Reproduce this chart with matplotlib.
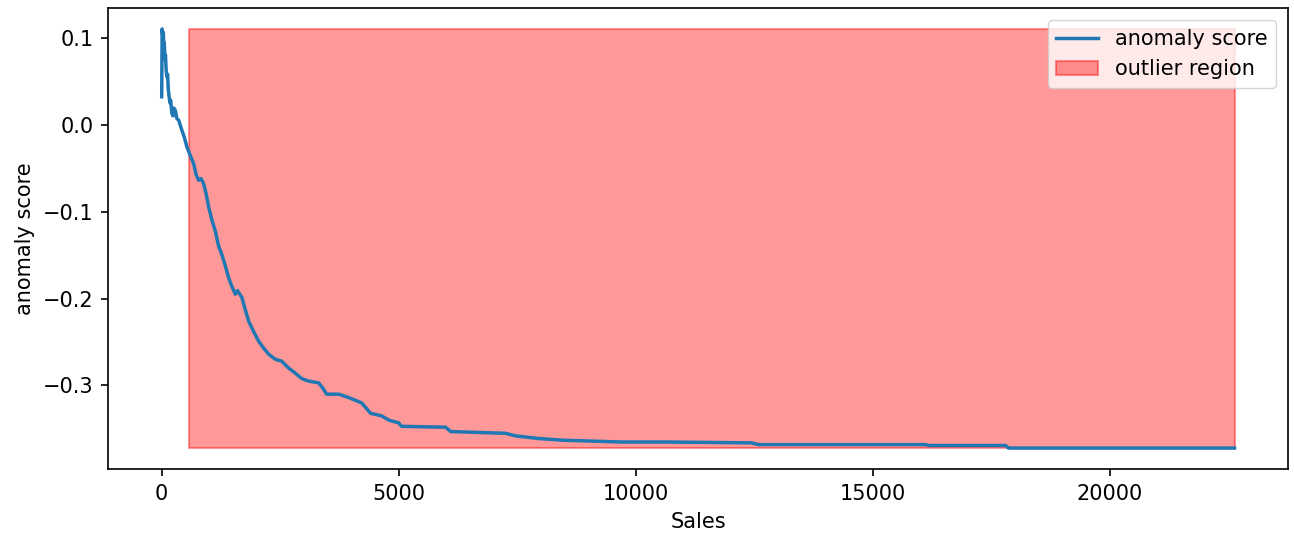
import numpy as np
import matplotlib
matplotlib.use('Agg')
import matplotlib.pyplot as plt

# Sales values (sorted) and the isolation forest anomaly score at each one
sales = [0.44, 10, 25, 35, 45, 55, 70, 80, 95, 110, 125, 140, 155, 175, 190, 215,
         240, 260, 290, 320, 360, 400, 430, 480, 534, 600, 675, 730, 781, 830,
         886, 940, 992, 1030, 1061, 1130, 1203, 1260, 1330, 1413, 1480, 1555,
         1600, 1694, 1760, 1835, 1940, 2046, 2150, 2257, 2400, 2532, 2679, 2800,
         2954, 3100, 3313, 3400, 3481, 3734, 3950, 4219, 4409, 4641, 4800, 5000,
         5063, 5992, 6097, 7257, 7468, 7954, 8481, 9705, 10633, 12447, 12594,
         15127, 16118, 16181, 17806, 17869, 22638]
anomaly_score = [0.032, 0.110, 0.100, 0.106, 0.090, 0.094, 0.075, 0.080, 0.062,
                 0.055, 0.058, 0.040, 0.033, 0.025, 0.028, 0.013, 0.010, 0.019,
                 0.016, 0.007, 0.005, -0.002, -0.007, -0.015, -0.026, -0.035,
                 -0.045, -0.058, -0.064, -0.062, -0.068, -0.080, -0.095, -0.103,
                 -0.110, -0.122, -0.140, -0.148, -0.160, -0.176, -0.186, -0.195,
                 -0.191, -0.199, -0.212, -0.226, -0.238, -0.249, -0.257, -0.264,
                 -0.270, -0.272, -0.280, -0.285, -0.292, -0.295, -0.297, -0.303,
                 -0.310, -0.310, -0.314, -0.320, -0.332, -0.335, -0.340, -0.343,
                 -0.347, -0.348, -0.353, -0.355, -0.358, -0.361, -0.363, -0.365,
                 -0.365, -0.366, -0.368, -0.368, -0.368, -0.369, -0.369, -0.372,
                 -0.372]

# Sales range flagged as outliers by the model
outlier_sales = [570, 22638]

plt.rcParams['font.size'] = 15
plt.rcParams['axes.linewidth'] = 1.2
plt.rcParams['xtick.major.width'] = 1.2
plt.rcParams['ytick.major.width'] = 1.2
plt.rcParams['xtick.major.size'] = 5.25
plt.rcParams['ytick.major.size'] = 5.25
plt.rcParams['xtick.major.pad'] = 5.25
plt.rcParams['ytick.major.pad'] = 5.25
plt.rcParams['axes.labelpad'] = 6

fig = plt.figure(figsize=(12.94, 5.33), dpi=100)
ax = fig.add_axes([0.0835, 0.120, 0.912, 0.865])

ax.plot(sales, anomaly_score, label='anomaly score', linewidth=2.5)
ax.fill_between(outlier_sales, np.min(anomaly_score), np.max(anomaly_score),
                color='r', alpha=.4, linewidth=1.5, label='outlier region')
ax.legend(loc='upper right', borderaxespad=0.6)
ax.set_ylabel('anomaly score')
ax.set_xlabel('Sales')

fig.savefig('out.png', dpi=100)
